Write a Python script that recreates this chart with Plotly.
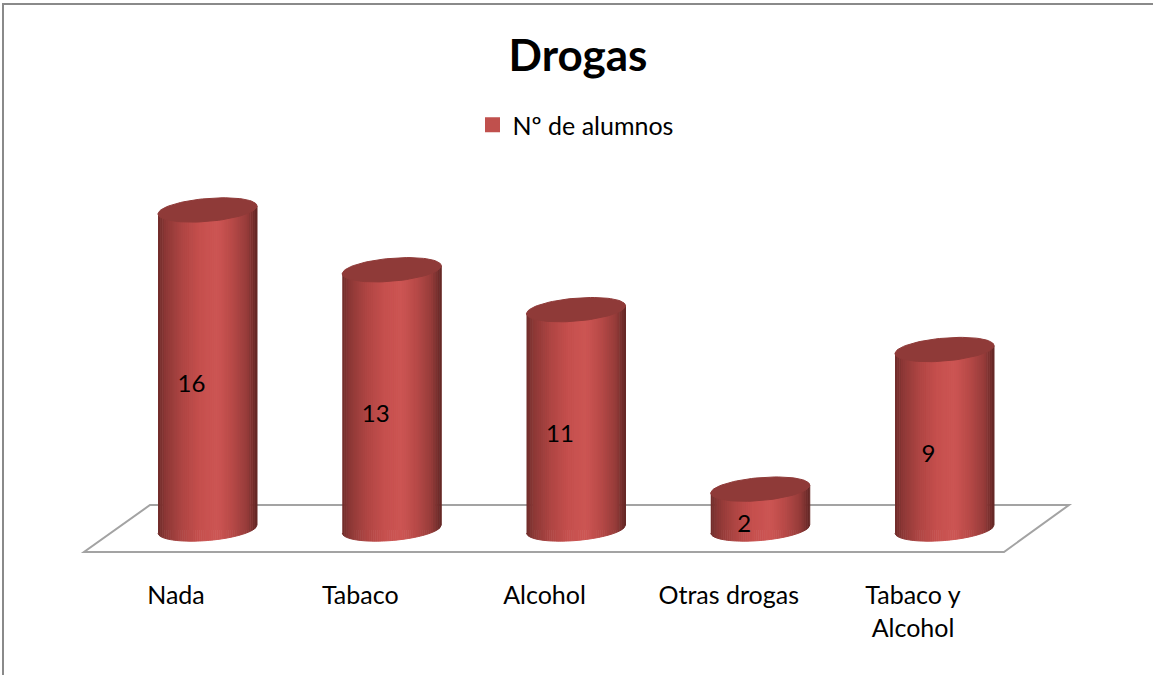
import numpy as np
import plotly.graph_objects as go

categories = ["Nada", "Tabaco", "Alcohol", "Otras drogas", "Tabaco y<br>Alcohol"]
values = [16, 13, 11, 2, 9]
series_name = "Nº de alumnos"
title_text = "Drogas"

FONT = "Lato"
W, H = 1153, 675
PX_PER_CAT = 184.25
PX_PER_UNIT = 19.94
X0_PX = 207.5
Y0_PX = 529
PLOT_BOTTOM_PX = 570
HALF = 49.5 / PX_PER_CAT
B = 11.5 / PX_PER_UNIT
T = 4.0 / PX_PER_UNIT

# horizontal shading across the cylinder: (position -1..1, rgb)
stops = [(-1.0, (112, 44, 42)), (-0.85, (140, 56, 54)), (-0.5, (176, 70, 68)), (-0.15, (198, 80, 78)),
         (0.2, (205, 86, 84)), (0.5, (184, 74, 72)), (0.8, (150, 60, 58)), (1.0, (98, 38, 36))]
N_STRIPS = 48


def shade(u):
    ps = [s[0] for s in stops]
    return "rgb(%d,%d,%d)" % tuple(np.interp(u, ps, [s[1][k] for s in stops]) for k in range(3))


def px_x(p):
    return (p - X0_PX) / PX_PER_CAT


def px_y(p):
    return (Y0_PX - p) / PX_PER_UNIT


fig = go.Figure()

# real bars (sit under the shaded cylinder skin, give the legend entry)
fig.add_trace(go.Bar(x=list(range(len(values))), y=values, width=0.45, name=series_name,
                     marker=dict(color="#C0504D", line=dict(width=3, color="#C0504D")),
                     showlegend=True, hoverinfo="skip"))

# shaded strips
edges = np.linspace(-1, 1, N_STRIPS + 1)
for j in range(N_STRIPS):
    xs, ys = [], []
    sub = np.linspace(edges[j], edges[j + 1], 4)
    for i, v in enumerate(values):
        xs += [i + u * HALF for u in sub]
        ys += [v + T * u for u in sub]
        xs += [i + u * HALF for u in sub[::-1]]
        ys += [T * u - B * np.sqrt(max(0, 1 - u * u)) for u in sub[::-1]]
        xs.append(None)
        ys.append(None)
    col = shade((edges[j] + edges[j + 1]) / 2)
    fig.add_trace(go.Scatter(x=xs, y=ys, mode="lines", fill="toself", fillcolor=col,
                             line=dict(color=col, width=1), showlegend=False, hoverinfo="skip"))

# dark caps
theta = np.linspace(0, 2 * np.pi, 80)
cx, cy = [], []
for i, v in enumerate(values):
    cx += list(i + HALF * np.cos(theta)) + [None]
    cy += list(v + T * np.cos(theta) + B * np.sin(theta)) + [None]
fig.add_trace(go.Scatter(x=cx, y=cy, mode="lines", fill="toself", fillcolor="#8F3A38",
                         line=dict(color="#8F3A38", width=1), showlegend=False, hoverinfo="skip"))

# value labels
fig.add_trace(go.Scatter(x=[i - 16 / PX_PER_CAT for i in range(len(values))],
                         y=[v / 2 - 16.5 / PX_PER_UNIT for v in values],
                         mode="text", text=[str(v) for v in values],
                         textposition="middle center",
                         textfont=dict(family=FONT, size=24, color="#000000"),
                         showlegend=False, hoverinfo="skip"))

floor = [(84, 552), (1004, 552), (1069, 505), (150, 505)]
floor_path = "M " + " L ".join(f"{px_x(a):.4f},{px_y(b):.4f}" for a, b in floor) + " Z"
shapes = [
    dict(type="path", path=floor_path, xref="x", yref="y", layer="below",
         line=dict(color="#A3A3A3", width=2), fillcolor="#FFFFFF"),
    dict(type="line", xref="paper", yref="paper", x0=3 / W, x1=3 / W, y0=0, y1=1 - 3 / H,
         line=dict(color="#8A8A8A", width=2)),
    dict(type="line", xref="paper", yref="paper", x0=2 / W, x1=1, y0=1 - 4 / H, y1=1 - 4 / H,
         line=dict(color="#8A8A8A", width=2)),
]

fig.update_layout(
    width=W, height=H,
    margin=dict(l=0, r=0, t=0, b=0, pad=0, autoexpand=False),
    paper_bgcolor="#FFFFFF", plot_bgcolor="rgba(0,0,0,0)",
    title=dict(text="<b>" + title_text + "</b>", x=578 / W, xanchor="center", y=1 - 56 / H, yanchor="middle",
               font=dict(family=FONT, size=44, color="#000000")),
    legend=dict(x=575.5 / W, xanchor="center", y=1 - 125 / H, yanchor="middle", orientation="h",
                bgcolor="rgba(0,0,0,0)", font=dict(family=FONT, size=25, color="#000000"),
                itemclick=False, itemdoubleclick=False),
    xaxis=dict(range=[px_x(0), px_x(W)], tickmode="array",
               tickvals=[i - 31.5 / PX_PER_CAT for i in range(len(categories))],
               ticktext=categories, showgrid=False, zeroline=False, showline=False, ticks="",
               ticklabelstandoff=8, tickangle=0,
               tickfont=dict(family=FONT, size=25, color="#000000"), fixedrange=True),
    yaxis=dict(domain=[1 - PLOT_BOTTOM_PX / H, 1], range=[px_y(PLOT_BOTTOM_PX), px_y(0)],
               visible=False, fixedrange=True),
    shapes=shapes,
    bargap=0,
    showlegend=True,
)

fig.write_html("out.html", config=dict(displayModeBar=False),
               post_script="document.body.style.margin='0';")
